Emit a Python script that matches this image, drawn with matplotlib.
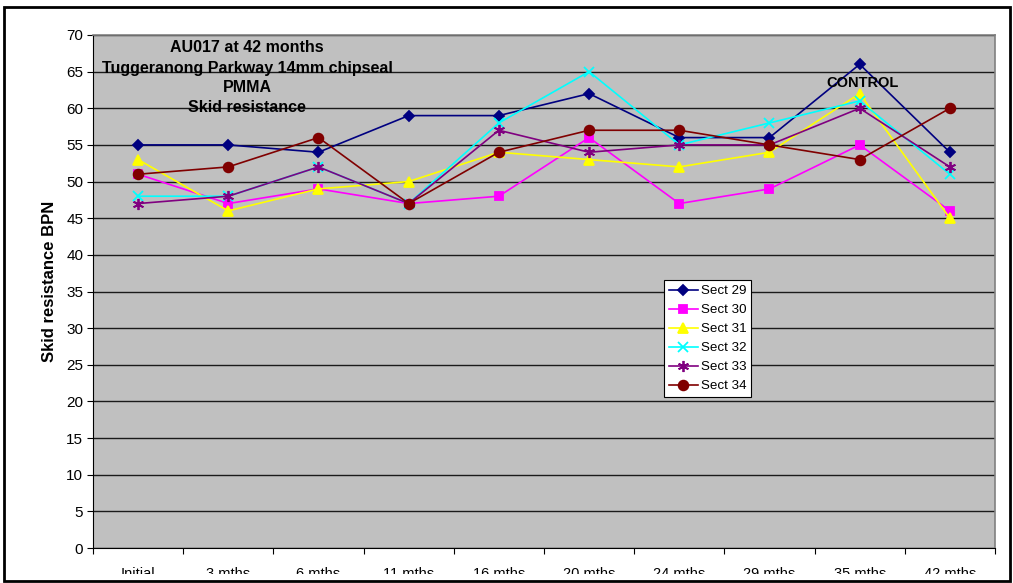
import matplotlib
matplotlib.use("Agg")
import matplotlib.pyplot as plt
from matplotlib.patches import Rectangle

plt.rcParams['font.family'] = ['Liberation Sans', 'DejaVu Sans']

categories = ["Initial", "3 mths", "6 mths", "11 mths", "16 mths",
              "20 mths", "24 mths", "29 mths", "35 mths", "42 mths"]
sect29 = [55, 55, 54, 59, 59, 62, 56, 56, 66, 54]
sect30 = [51, 47, 49, 47, 48, 56, 47, 49, 55, 46]
sect31 = [53, 46, 49, 50, 54, 53, 52, 54, 62, 45]
sect32 = [48, 48, 52, 47, 58, 65, 55, 58, 61, 51]
sect33 = [47, 48, 52, 47, 57, 54, 55, 55, 60, 52]
sect34 = [51, 52, 56, 47, 54, 57, 57, 55, 53, 60]

series = [
    ("Sect 29", sect29, "#000080", "D", 5),
    ("Sect 30", sect30, "#FF00FF", "s", 6),
    ("Sect 31", sect31, "#FFFF00", "^", 7),
    ("Sect 32", sect32, "#00FFFF", "x", 7),
    ("Sect 33", sect33, "#800080", (6, 2, 0), 8),
    ("Sect 34", sect34, "#800000", "o", 7),
]

fig = plt.figure(figsize=(10.13, 5.83), dpi=100)
ax = fig.add_axes([0.0918, 0.0600, 0.8904, 0.8800])
ax.set_facecolor("#C0C0C0")

x = list(range(len(categories)))
for name, vals, col, mk, ms in series:
    ax.plot(x, vals, color=col, marker=mk, markersize=ms, linewidth=1.2,
            markeredgecolor=col, markerfacecolor=col, markeredgewidth=1.3,
            label=name, clip_on=False, zorder=3)

ax.set_xlim(-0.5, len(categories) - 0.5)
ax.set_ylim(0, 70)
ax.set_yticks(range(0, 71, 5))
ax.yaxis.grid(True, color="#1a1a1a", linewidth=1.0)
ax.set_axisbelow(True)

# category boundaries get the tick marks, names sit between them
ax.set_xticks([i - 0.5 for i in range(len(categories) + 1)])
ax.set_xticklabels([])
ax.set_xticks(x, minor=True)
ax.set_xticklabels(categories, minor=True)
ax.tick_params(axis="x", which="minor", length=0, pad=14, labelsize=10.5)
ax.tick_params(axis="x", which="major", length=4, color="black")
ax.tick_params(axis="y", length=4, labelsize=11, pad=3)

for side in ("top", "right"):
    ax.spines[side].set_color("#808080")
    ax.spines[side].set_linewidth(1.2)
ax.spines["left"].set_color("black")
ax.spines["bottom"].set_color("black")

ax.set_ylabel("Skid resistance BPN", fontsize=12, fontweight="bold")
ax.yaxis.set_label_coords(-0.040, 0.52)

title_lines = ["AU017 at 42 months", "Tuggeranong Parkway 14mm chipseal",
               "PMMA", "Skid resistance"]
for i, line in enumerate(title_lines):
    fig.text(247 / 1013, 1 - (48 + 20 * i) / 583, line, ha="center", va="center",
             fontsize=11.5, fontweight="bold")

ax.text(8.03, 63.4, "CONTROL", ha="center", va="center", fontsize=10.5,
        fontweight="bold", zorder=4)

leg = ax.legend(loc="upper left", bbox_to_anchor=(0.633, 0.522), fontsize=9.6,
                frameon=True, fancybox=False, edgecolor="black", framealpha=1,
                borderpad=0.35, labelspacing=0.5, handlelength=2.2,
                handletextpad=0.2, borderaxespad=0)
leg.get_frame().set_linewidth(0.8)

# bottom strip and outer frame
fig.patches.append(Rectangle((0, 0), 1, 9 / 583, transform=fig.transFigure,
                             facecolor="white", edgecolor="none", zorder=10))
fig.patches.append(Rectangle((4 / 1013, 2.5 / 583), 1006 / 1013, 574 / 583,
                             transform=fig.transFigure, facecolor="none",
                             edgecolor="black", linewidth=2, zorder=11))

fig.savefig("out.png", dpi=100, facecolor="white")
